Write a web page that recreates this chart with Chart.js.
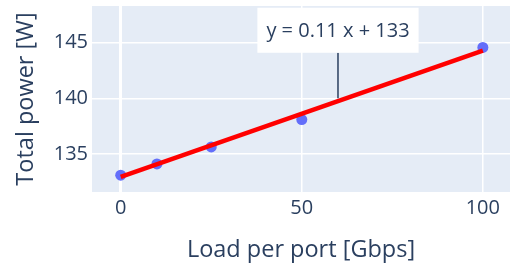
<!DOCTYPE html>
<html>
<head>
<meta charset="utf-8">
<script src="https://cdn.jsdelivr.net/npm/chart.js@4.4.1/dist/chart.umd.min.js"></script>
<style>
html,body{margin:0;padding:0;background:#fff;}
#wrap{width:510px;height:264px;position:relative;}
</style>
</head>
<body>
<div id="wrap"><canvas id="c" width="510" height="264"></canvas></div>
<script>
// ---- data ----
const loadX = [0, 10, 25, 50, 100];
const powerY = [133.12, 134.13, 135.65, 138.1, 144.55];
const fitX = [0, 100];
const fitY = [132.97, 144.26];
const xTicks = [0, 50, 100];
const yTicks = [135, 140, 145];
const xTitle = 'Load per port [Gbps]';
const yTitle = 'Total power [W]';
const annText = 'y = 0.11 x + 133';
const annTip = {x: 60, y: 140.0};

const FONT = "'Open Sans', sans-serif";
const INK = '#2a3f5f';

const bgPlugin = {
  id: 'bg',
  beforeDraw(chart) {
    const {ctx, chartArea: a} = chart;
    ctx.save();
    ctx.fillStyle = '#E5ECF6';
    ctx.fillRect(a.left, a.top, a.right - a.left, a.bottom - a.top);
    ctx.restore();
  }
};

const annPlugin = {
  id: 'ann',
  afterDatasetsDraw(chart) {
    const {ctx} = chart;
    const xs = chart.scales.x, ys = chart.scales.y;
    const tx = xs.getPixelForValue(annTip.x);
    const ty = ys.getPixelForValue(annTip.y);
    const cy = ty - 68;
    ctx.save();
    ctx.font = "20px " + FONT;
    const w = ctx.measureText(annText).width + 18;
    const h = 45;
    ctx.strokeStyle = INK;
    ctx.lineWidth = 1.5;
    ctx.beginPath();
    ctx.moveTo(tx, cy + h / 2);
    ctx.lineTo(tx, ty);
    ctx.stroke();
    ctx.fillStyle = '#ffffff';
    ctx.fillRect(tx - w / 2, cy - h / 2, w, h);
    ctx.fillStyle = INK;
    ctx.textAlign = 'center';
    ctx.textBaseline = 'middle';
    ctx.fillText(annText, tx, cy + 1);
    ctx.restore();
  }
};

function noPad(s) { s.paddingLeft = 0; s.paddingRight = 0; s.paddingTop = 0; s.paddingBottom = 0; }

new Chart(document.getElementById('c'), {
  type: 'scatter',
  data: {
    datasets: [
      {
        type: 'line',
        data: fitX.map((x, i) => ({x, y: fitY[i]})),
        borderColor: '#ff0000',
        borderWidth: 4.5,
        pointRadius: 0,
        fill: false,
        order: 1
      },
      {
        data: loadX.map((x, i) => ({x, y: powerY[i]})),
        backgroundColor: '#636efa',
        borderWidth: 0,
        pointRadius: 5.5,
        order: 2
      }
    ]
  },
  options: {
    responsive: false,
    animation: false,
    devicePixelRatio: 1,
    layout: {autoPadding: false, padding: {top: 6, left: 0, right: 0, bottom: 0}},
    plugins: {legend: {display: false}, tooltip: {enabled: false}},
    scales: {
      x: {
        type: 'linear',
        min: -7.93,
        max: 107.5,
        afterBuildTicks(s) { s.ticks = xTicks.map(v => ({value: v})); },
        afterFit(s) { s.height = 72; noPad(s); },
        border: {display: false},
        grid: {
          color: '#ffffff',
          lineWidth: c => (c.tick && c.tick.value === 0 ? 3 : 1.5),
          drawTicks: false
        },
        ticks: {color: INK, font: {family: FONT, size: 20}, padding: 4, maxRotation: 0},
        title: {display: true, text: xTitle, color: INK, font: {family: FONT, size: 23.5}, padding: {bottom: 0}}
      },
      y: {
        type: 'linear',
        min: 131.62,
        max: 148.25,
        afterBuildTicks(s) { s.ticks = yTicks.map(v => ({value: v})); },
        afterFit(s) { s.width = 92; noPad(s); },
        border: {display: false},
        grid: {color: '#ffffff', lineWidth: 1.5, drawTicks: false},
        ticks: {color: INK, font: {family: FONT, size: 20}, padding: 4},
        title: {display: true, text: yTitle, color: INK, font: {family: FONT, size: 23.5}, padding: {top: 12}}
      }
    }
  },
  plugins: [bgPlugin, annPlugin]
});
</script>
</body>
</html>
